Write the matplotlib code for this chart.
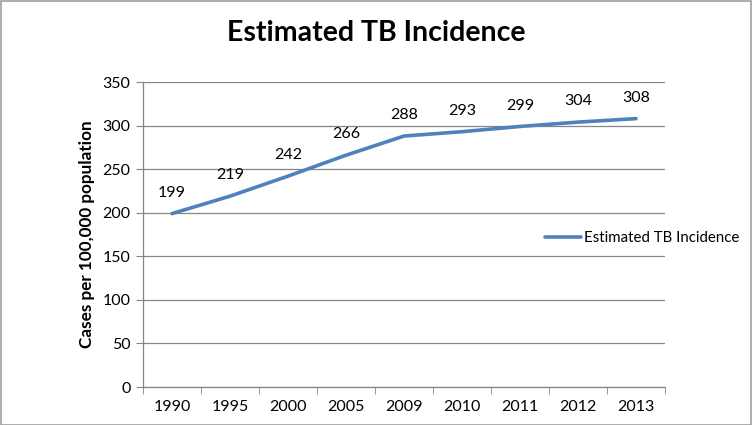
import numpy as np
import matplotlib
matplotlib.use("Agg")
import matplotlib.pyplot as plt
from matplotlib.patches import Rectangle

years = ['1990', '1995', '2000', '2005', '2009', '2010', '2011', '2012', '2013']
incidence = [199, 219, 242, 266, 288, 293, 299, 304, 308]
series_name = 'Estimated TB Incidence'

plt.rcParams['font.family'] = ['Lato', 'DejaVu Sans']

fig = plt.figure(figsize=(7.53, 4.25), dpi=100)
ax = fig.add_axes([0.1899, 0.0894, 0.6932, 0.7176])

ind = np.arange(len(years))
ax.plot(ind, incidence, color='#4F81BD', linewidth=2.6, label=series_name,
        solid_capstyle='round')
for i, v in zip(ind, incidence):
    ax.annotate(str(v), (i, v), xytext=(0, 15), textcoords='offset points',
                ha='center', va='center', fontsize=11.5, color='black')

ax.set_xlim(-0.5, len(years) - 0.5)
ax.set_ylim(0, 350)
ax.set_yticks(np.arange(0, 351, 50))
ax.set_xticks(ind)
ax.set_xticklabels(years)
ax.set_xticks(np.arange(-0.5, len(years)), minor=True)
ax.tick_params(axis='x', which='major', length=0, labelsize=11.5, pad=9)
ax.tick_params(axis='x', which='minor', length=5, color='#868686')
ax.tick_params(axis='y', length=5, color='#868686', labelsize=11.5, pad=4)
ax.yaxis.grid(True, color='#868686', linewidth=0.9)
ax.set_axisbelow(True)
for s in ['top', 'right']:
    ax.spines[s].set_visible(False)
for s in ['left', 'bottom']:
    ax.spines[s].set_color('#868686')
    ax.spines[s].set_linewidth(0.9)

ax.set_ylabel('Cases per 100,000 population', fontsize=12.3, fontweight='bold',
              labelpad=5)
fig.text(0.5, 0.922, 'Estimated TB Incidence', ha='center', va='center',
         fontsize=20.5, fontweight='bold')

leg = fig.legend(loc='center left', bbox_to_anchor=(0.708, 0.44), frameon=True,
                 fontsize=10.8, handlelength=2.4, handletextpad=0.2,
                 borderpad=0.3)
leg.get_frame().set_edgecolor('none')
leg.get_frame().set_facecolor('white')

fig.patches.append(Rectangle((0.001, 0.001), 0.997, 0.997, transform=fig.transFigure,
                             fill=False, edgecolor='#A0A0A0', linewidth=1.2))

fig.savefig('out.png', dpi=100)
